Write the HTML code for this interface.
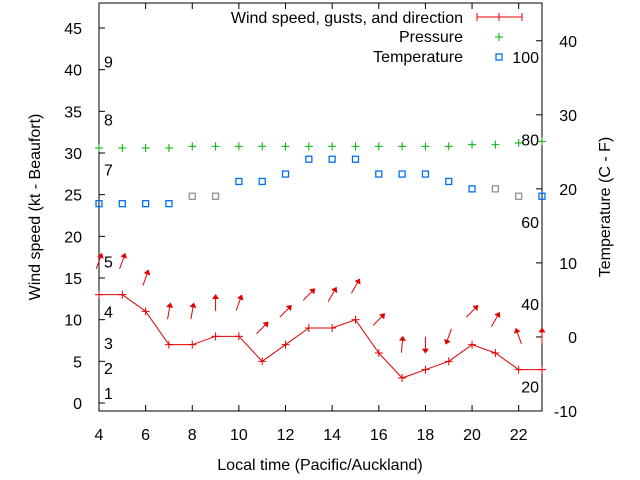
<!DOCTYPE html>
<html><head><meta charset="utf-8"><style>
body{margin:0;background:#fff}
svg{display:block;font-family:"Liberation Sans",sans-serif;font-size:16px}
</style></head><body>
<svg id="chart" width="640" height="480" viewBox="0 0 640 480" xmlns="http://www.w3.org/2000/svg">
<g id="axes"></g><g id="marks"></g>
<text transform="translate(40,207) rotate(-90)" text-anchor="middle">Wind speed (kt - Beaufort)</text>
<text transform="translate(610,207) rotate(-90)" text-anchor="middle">Temperature (C - F)</text>
<text x="320" y="470" text-anchor="middle">Local time (Pacific/Auckland)</text>
<g>
<text x="463" y="23" text-anchor="end">Wind speed, gusts, and direction</text>
<g stroke="#e00000" stroke-width="1"><line x1="477" y1="17" x2="522" y2="17"/><line x1="477" y1="13" x2="477" y2="21"/><line x1="522" y1="13" x2="522" y2="21"/><line x1="499" y1="13" x2="499" y2="21"/></g>
<text x="463" y="42" text-anchor="end">Pressure</text>
<g stroke="#00b000"><line x1="495" y1="37" x2="503" y2="37"/><line x1="499" y1="33" x2="499" y2="41"/></g>
<text x="463" y="62" text-anchor="end">Temperature</text>
<rect x="496" y="54" width="6" height="6" fill="none" stroke="#0070f0" stroke-width="1.3"/>
</g>
</svg>
<script>
const hours=[4,5,6,7,8,9,10,11,12,13,14,15,16,17,18,19,20,21,22,23];
const windKt=[13,13,11,7,7,8,8,5,7,9,9,10,6,3,4,5,7,6,4,4];
const gustKt=[17,17,15,11,11,12,12,9,11,13,13,14,10,7,7,8,11,10,8,8];
const dirDeg=[20,20,20,10,10,0,20,45,45,45,30,30,45,5,180,200,45,30,340,0];
const pressure=[30.6,30.6,30.6,30.6,30.8,30.8,30.8,30.8,30.8,30.8,30.8,30.8,30.8,30.8,30.8,30.8,31.0,31.0,31.2,31.4];
const tempC=[18,18,18,18,19,19,21,21,22,24,24,24,22,22,22,21,20,20,19,19];
const greyTemp=[8,9,21,22];
const leftTicks=[0,5,10,15,20,25,30,35,40,45];
const rightTicks=[-10,0,10,20,30,40];
const xTicks=[4,6,8,10,12,14,16,18,20,22];
const fTicks=[20,40,60,80,100];
const beaufortLabels=["1","2","3","4","5","7","8","9"];
const beaufortKt=[1.2,4.2,7.2,11,17,28,34,41];

const L=99,R=542,T=3,B=411;
const X=h=>L+(h-4)*(R-L)/19;
const Y=v=>B-(v+0.96)*(B-T)/48.96;
const Y2=c=>B-(c+10)*(B-T)/55.1;
const NS="http://www.w3.org/2000/svg";
function mk(parent,tag,attrs){const e=document.createElementNS(NS,tag);for(const k in attrs)e.setAttribute(k,attrs[k]);parent.appendChild(e);return e;}
const ax=document.getElementById('axes'),mg=document.getElementById('marks');
const frame=mk(ax,'rect',{x:L,y:T,width:R-L,height:B-T,fill:'none',stroke:'#000','stroke-width':1});


leftTicks.forEach(v=>{const y=Y(v);mk(ax,'line',{x1:L,y1:y,x2:L+6,y2:y,stroke:'#000'});
 const t=mk(ax,'text',{x:82,y:y+6,'text-anchor':'end'});t.textContent=v;
 
 });
rightTicks.forEach(v=>{const y=Y2(v);mk(ax,'line',{x1:R-6,y1:y,x2:R,y2:y,stroke:'#000'});
 const t=mk(ax,'text',{x:577,y:y+6,'text-anchor':'end'});t.textContent=v;
 
 });
xTicks.forEach(v=>{const x=X(v);mk(ax,'line',{x1:x,y1:B,x2:x,y2:B-6,stroke:'#000'});mk(ax,'line',{x1:x,y1:T,x2:x,y2:T+6,stroke:'#000'});
 const t=mk(ax,'text',{x:x,y:440,'text-anchor':'middle'});t.textContent=v;
 
 });
fTicks.forEach(f=>{const t=mk(ax,'text',{x:539,y:Y2((f-32)/1.8)+6,'text-anchor':'end'});t.textContent=f;
 
 });
beaufortLabels.forEach((b,i)=>{const t=mk(ax,'text',{x:104,y:Y(beaufortKt[i])+6});t.textContent=b;
 
 });
pressure.forEach((p,i)=>{const x=X(hours[i]),y=Y(p);const g=mk(mg,'g',{stroke:'#00b000'});
 
 
 mk(g,'line',{x1:x-4,y1:y,x2:x+4,y2:y});mk(g,'line',{x1:x,y1:y-4,x2:x,y2:y+4});});
tempC.forEach((c,i)=>{const x=X(hours[i]),y=Y2(c);const r=mk(mg,'rect',{x:x-3,y:y-3,width:6,height:6,fill:'none',stroke:greyTemp.includes(hours[i])?'#909090':'#0070f0','stroke-width':1.3});
 
 });
const pts=hours.map((h,i)=>X(h)+','+Y(windKt[i])).join(' ');
const pl=mk(mg,'polyline',{points:pts,fill:'none',stroke:'#e00000','stroke-width':1});


windKt.forEach((w,i)=>{const x=X(hours[i]),y=Y(w);const g=mk(mg,'g',{stroke:'#e00000'});
 
 
 mk(g,'line',{x1:x-4,y1:y,x2:x+4,y2:y});mk(g,'line',{x1:x,y1:y-4,x2:x,y2:y+4});});
gustKt.forEach((gk,i)=>{const x=X(hours[i]),y=Y(gk);const g=mk(mg,'g',{transform:`translate(${x},${y}) rotate(${dirDeg[i]})`});
 
 
 mk(g,'line',{x1:0,y1:8,x2:0,y2:-5,stroke:'#e00000','stroke-width':1});
 mk(g,'polygon',{points:'0,-9 -3.5,-4 3.5,-4',fill:'#e00000'});});
</script>
</body></html>
